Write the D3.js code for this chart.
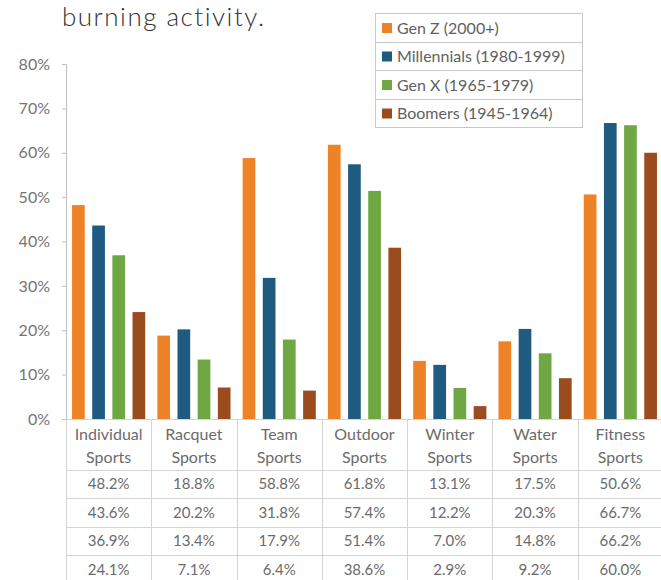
<!DOCTYPE html>
<html>
<head>
<meta charset="utf-8">
<script src="https://cdn.jsdelivr.net/npm/d3@7"></script>
<style>
  body { margin: 0; background: #fff; }
  svg { display: block; }
  .tick text { font-family: Lato, "Open Sans", sans-serif; }
</style>
</head>
<body>
<div id="chart"></div>
<script>
// data
var categories = ["Individual Sports", "Racquet Sports", "Team Sports", "Outdoor Sports", "Winter Sports", "Water Sports", "Fitness Sports"];
var seriesNames = ["Gen Z (2000+)", "Millennials (1980-1999)", "Gen X (1965-1979)", "Boomers (1945-1964)"];
var genZ = [48.2, 18.8, 58.8, 61.8, 13.1, 17.5, 50.6];
var millennials = [43.6, 20.2, 31.8, 57.4, 12.2, 20.3, 66.7];
var genX = [36.9, 13.4, 17.9, 51.4, 7.0, 14.8, 66.2];
var boomers = [24.1, 7.1, 6.4, 38.6, 2.9, 9.2, 60.0];
var yTicks = [0, 10, 20, 30, 40, 50, 60, 70, 80];

var colors = ["#EE8226", "#1F5B80", "#6FA843", "#9B4C1F"];
var allSeries = [genZ, millennials, genX, boomers];

var svgWidth = 661;
var svgHeight = 580;

var margin = { top: 64, left: 66 };
var plotBottom = 419;
var plotRight = 663;

var svg = d3.select("#chart")
    .append("svg")
    .attr("width", svgWidth)
    .attr("height", svgHeight);

// title fragment at the top
svg.append("text")
    .attr("x", 62)
    .attr("y", 26)
    .attr("font-family", "Lato, 'Open Sans', sans-serif")
    .attr("font-weight", 300)
    .attr("font-size", "26px")
    .attr("letter-spacing", "1.5px")
    .attr("fill", "#333")
    .text("burning activity.");

// scales
var x0 = d3.scaleBand()
    .domain(categories)
    .range([margin.left, plotRight]);

var x1 = d3.scaleBand()
    .domain(d3.range(4))
    .range([0, x0.bandwidth()])
    .paddingInner(0.37)
    .paddingOuter(0.3);

var y = d3.scaleLinear()
    .domain([0, 80])
    .range([plotBottom, margin.top]);

// y axis
var leftAxis = d3.axisLeft(y)
    .tickValues(yTicks)
    .tickFormat(d => d + "%")
    .tickSize(4)
    .tickPadding(12);

var yAxisG = svg.append("g")
    .attr("transform", `translate(${margin.left}, 0)`)
    .call(leftAxis);

yAxisG.select(".domain").attr("stroke", "#BFBFBF");
yAxisG.selectAll(".tick line").attr("stroke", "#BFBFBF");
yAxisG.selectAll(".tick text")
    .attr("fill", "#757575")
    .attr("font-size", "16px");

// bars
var groups = svg.selectAll(".group")
    .data(categories)
    .enter()
    .append("g")
    .attr("class", "group")
    .attr("transform", d => `translate(${x0(d)}, 0)`);

groups.selectAll("rect")
    .data((d, i) => allSeries.map((s, k) => ({ k: k, v: s[i] })))
    .enter()
    .append("rect")
    .attr("x", d => x1(d.k))
    .attr("y", d => y(d.v))
    .attr("width", x1.bandwidth())
    .attr("height", d => plotBottom - y(d.v))
    .attr("fill", d => colors[d.k]);

// data table under the chart
var rowTops = [419, 470, 498, 527, 555, 584];
var table = svg.append("g");

table.selectAll(".hline")
    .data(rowTops)
    .enter()
    .append("line")
    .attr("x1", margin.left)
    .attr("x2", plotRight)
    .attr("y1", d => d + 0.5)
    .attr("y2", d => d + 0.5)
    .attr("stroke", "#D4D4D4");

var colEdges = categories.map(c => x0(c)).concat([plotRight]);
table.selectAll(".vline")
    .data(colEdges)
    .enter()
    .append("line")
    .attr("x1", d => Math.round(d) + 0.5)
    .attr("x2", d => Math.round(d) + 0.5)
    .attr("y1", plotBottom)
    .attr("y2", svgHeight)
    .attr("stroke", "#D4D4D4");

var cellFont = "Lato, 'Open Sans', sans-serif";

categories.forEach(function(cat, i) {
    var cx = x0(cat) + x0.bandwidth() / 2;
    var words = cat.split(" ");
    words.forEach(function(w, j) {
        table.append("text")
            .attr("x", cx)
            .attr("y", 440 + j * 23)
            .attr("text-anchor", "middle")
            .attr("font-family", cellFont)
            .attr("font-size", "16px")
            .attr("fill", "#6b6b6b")
            .text(w);
    });
    allSeries.forEach(function(s, k) {
        table.append("text")
            .attr("x", cx)
            .attr("y", (rowTops[k + 1] + rowTops[k + 2]) / 2 + 5)
            .attr("text-anchor", "middle")
            .attr("font-family", cellFont)
            .attr("font-size", "15px")
            .attr("fill", "#6b6b6b")
            .text(s[i].toFixed(1) + "%");
    });
});

// legend box
var legend = svg.append("g").attr("transform", "translate(375, 13)");
var rowH = 28.5;

legend.append("rect")
    .attr("x", 0.5)
    .attr("y", 0.5)
    .attr("width", 207)
    .attr("height", rowH * 4)
    .attr("fill", "#fff")
    .attr("stroke", "#C8C8C8");

seriesNames.forEach(function(name, k) {
    if (k > 0) {
        legend.append("line")
            .attr("x1", 0.5)
            .attr("x2", 207.5)
            .attr("y1", Math.round(k * rowH) + 0.5)
            .attr("y2", Math.round(k * rowH) + 0.5)
            .attr("stroke", "#C8C8C8");
    }
    legend.append("rect")
        .attr("x", 7)
        .attr("y", k * rowH + 10)
        .attr("width", 10)
        .attr("height", 10)
        .attr("fill", colors[k]);
    legend.append("text")
        .attr("x", 22)
        .attr("y", k * rowH + 20.5)
        .attr("font-family", cellFont)
        .attr("font-size", "16px")
        .attr("fill", "#5f5f5f")
        .text(name);
});
</script>
</body>
</html>
